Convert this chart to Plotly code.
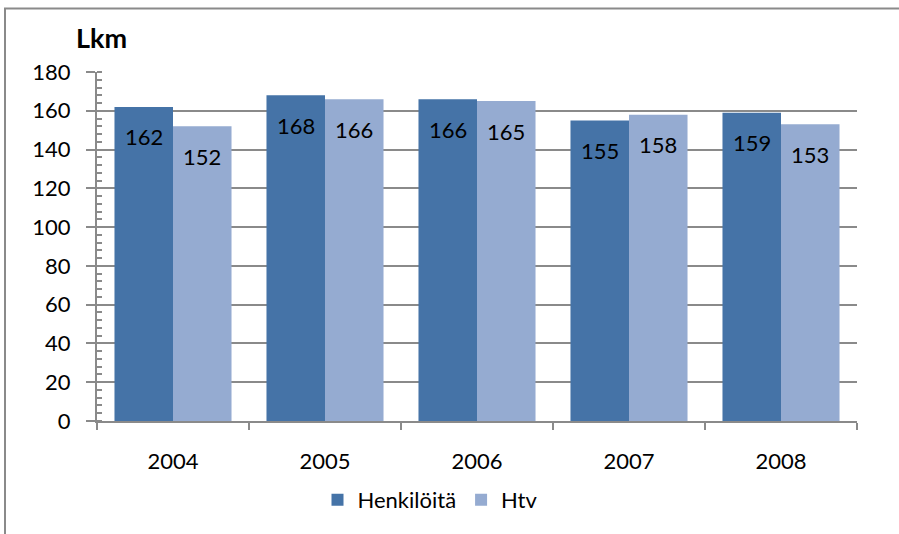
import plotly.graph_objects as go

years = ["2004", "2005", "2006", "2007", "2008"]
henkiloita = [162, 168, 166, 155, 159]
htv = [152, 166, 165, 158, 153]
series_names = ["Henkilöitä", "Htv"]
colors = ["#4573A7", "#95ABD1"]
y_ticks = [0, 20, 40, 60, 80, 100, 120, 140, 160, 180]

FONT = "Lato, Open Sans, sans-serif"
FS = 22
GRID = "#8a8a8a"
BARGAP = 0.23

fig = go.Figure()
for name, vals, col in zip(series_names, [henkiloita, htv], colors):
    fig.add_trace(go.Bar(x=years, y=vals, name=name, marker=dict(color=col, line=dict(width=0))))

# data labels inside bars, near the top
bw = (1 - BARGAP) / 2
for si, vals in enumerate([henkiloita, htv]):
    off = -bw / 2 if si == 0 else bw / 2
    for i, v in enumerate(vals):
        fig.add_annotation(x=i + off, y=v, xref="x", yref="y", text=str(v), showarrow=False,
                           yanchor="middle", yshift=-30, font=dict(family=FONT, size=FS, color="black"))

fig.add_annotation(text="<b>Lkm</b>", xref="paper", yref="paper", x=(74 - 97) / 760, y=1 + (72 - 38) / 349,
                   xanchor="left", yanchor="middle", showarrow=False, font=dict(family=FONT, size=27, color="black"))

# outer frame
fig.add_shape(type="rect", xref="paper", yref="paper",
              x0=(5 - 97) / 760, x1=(905 - 97) / 760, y0=1 - (540 - 72) / 349, y1=1 + (72 - 8.5) / 349,
              line=dict(color="#8a8a8a", width=2), fillcolor="rgba(0,0,0,0)", layer="below")

fig.update_layout(
    width=899, height=534,
    margin=dict(l=97, r=42, t=72, b=113),
    paper_bgcolor="white", plot_bgcolor="white",
    barmode="group", bargap=BARGAP, bargroupgap=0,
    font=dict(family=FONT, size=FS, color="black"),
    showlegend=True,
    legend=dict(orientation="h", x=(430 - 97) / 760, xanchor="center", y=1 - (500 - 72) / 349, yanchor="middle",
                font=dict(family=FONT, size=FS, color="black"), itemwidth=30, tracegroupgap=0,
                bgcolor="rgba(0,0,0,0)"),
)
fig.update_xaxes(type="category", tickson="boundaries", ticks="outside", ticklen=7, tickwidth=2, tickcolor=GRID,
                 showline=True, linecolor=GRID, linewidth=2, showgrid=False,
                 tickfont=dict(family=FONT, size=FS), ticklabelstandoff=20)
fig.update_yaxes(range=[0, 180], tickvals=y_ticks, ticks="outside", ticklen=9, tickwidth=2, tickcolor=GRID,
                 showline=True, linecolor=GRID, linewidth=2, showgrid=True, gridcolor=GRID, gridwidth=1.5,
                 zeroline=False, tickfont=dict(family=FONT, size=FS), ticklabelstandoff=11,
                 minor=dict(dtick=4, ticks="inside", ticklen=5, tickwidth=1.5, tickcolor=GRID, showgrid=False))

fig.write_html("out.html", config={"displayModeBar": False},
               post_script="document.body.style.margin='0';")
